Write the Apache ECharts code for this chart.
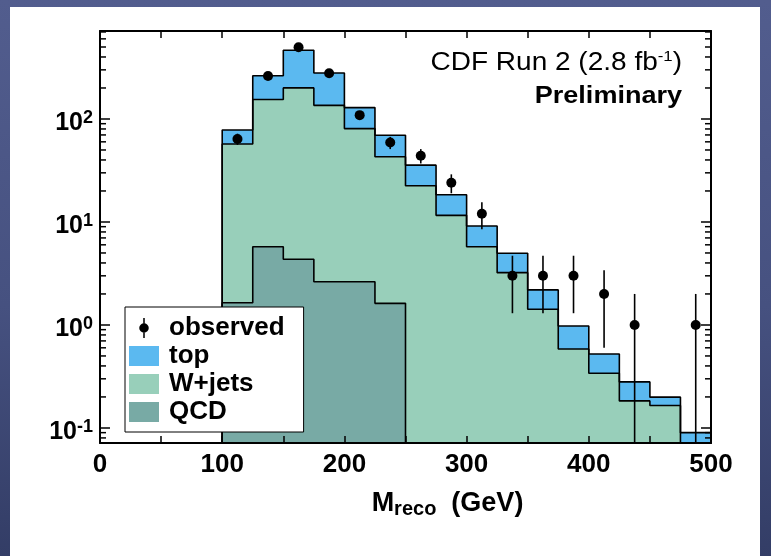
<!DOCTYPE html>
<html>
<head>
<meta charset="utf-8">
<script src="https://cdn.jsdelivr.net/npm/echarts@6.0.0/dist/echarts.min.js"></script>
<style>
html,body{margin:0;padding:0;}
body{width:771px;height:556px;overflow:hidden;position:relative;background:linear-gradient(180deg,#525d8e 0%,#465180 55%,#333d66 100%);}
#panel{position:absolute;left:10px;top:7px;width:750px;height:549px;background:#fff;}
#chart{position:absolute;left:0;top:0;width:771px;height:556px;}
</style>
</head>
<body>
<div id="panel"></div>
<div id="chart"></div>
<script>
// ---- data ----
const binEdges = [100,125,150,175,200,225,250,275,300,325,350,375,400,425,450,475,500];
const qcd      = [1.64,5.75,4.34,2.63,2.63,1.62,0,0,0,0,0,0,0,0,0,0];
const wjets    = [55.6,149,196,133,78,41.4,22.5,11.6,5.75,3.22,1.42,0.585,0.34,0.183,0.165,0.05];
const topQuark = [21,108,264,144,48.3,26.5,13.1,6.8,3.4,1.75,0.77,0.393,0.183,0.097,0.034,0.04];
const observed = [64,261,497,278,109,59,44,24,12,3,3,3,2,1,null,1];
const obsLow   = [56,245,475,261,99,51,37,19,8.5,1.3,1.3,1.3,0.6,0,null,0];
const obsHigh  = [72,277,519,295,119,67,51,29,15.5,4.7,4.7,4.7,3.4,2,null,2];
const xLabelValues = [0,100,200,300,400,500];
const yMajorTicks = [0.1,1,10,100];
const yMinorTicks = [0.08,0.09,0.2,0.3,0.4,0.5,0.6,0.7,0.8,0.9,2,3,4,5,6,7,8,9,20,30,40,50,60,70,80,90,200,300,400,500,600,700];
const seriesNames = ['observed','top','W+jets','QCD'];

// ---- settings ----
const xMin = 0, xMax = 500;
const yMin = 0.0714, yMax = 715;
const FONT = '"Liberation Sans", Arial, Helvetica, sans-serif';
const C_TOP = '#5bb9f0', C_W = '#98cfba', C_QCD = '#78aaa5';

// cumulative stack levels
const lvlQcd = qcd.slice();
const lvlW = qcd.map((v,i)=>v+wjets[i]);
const lvlTot = lvlW.map((v,i)=>v+topQuark[i]);

function stepData(vals){
  let last = vals.length-1;
  while(last>=0 && !(vals[last]>0)) last--;
  const pts = [[binEdges[0], yMin]];
  for(let i=0;i<=last;i++) pts.push([binEdges[i], vals[i]]);
  pts.push([binEdges[last+1], vals[last]]);
  pts.push([binEdges[last+1], yMin]);
  return pts;
}
const centers = binEdges.slice(0,-1).map((e,i)=>(e+binEdges[i+1])/2);
const obsData = [], errData = [];
observed.forEach((v,i)=>{
  if(v==null) return;
  obsData.push([centers[i], v]);
  errData.push([centers[i], Math.max(obsLow[i], yMin), obsHigh[i]]);
});

function fillSeries(name, data, color){
  return {name, type:'line', step:'end', data, symbol:'none', clip:true, silent:true,
    itemStyle:{color}, lineStyle:{width:0, opacity:0},
    areaStyle:{color, opacity:1, origin:'start'}, z:2};
}
function lineSeries(data){
  return {name:'outline', type:'line', step:'end', data, symbol:'none', clip:true, silent:true,
    lineStyle:{color:'#000', width:1.6}, z:3};
}

const axisLineStyle = {color:'#000', width:2};
const tickStyle = {color:'#000', width:1.5};

const option = {
  animation:false,
  backgroundColor:'transparent',
  grid:{left:100, right:60, top:31, bottom:113, containLabel:false},
  xAxis:[
    {type:'value', min:xMin, max:xMax, interval:50, position:'bottom', z:10,
     axisLine:{show:true, onZero:false, lineStyle:axisLineStyle},
     axisTick:{show:true, inside:true, length:7, lineStyle:tickStyle},
     axisLabel:{customValues:xLabelValues, margin:9, fontFamily:FONT, fontWeight:'bold', fontSize:26, color:'#000'},
     splitLine:{show:false},
     name:'{m|M}{s|reco}{g|  (GeV)}', nameLocation:'middle', nameGap:46,
     nameTextStyle:{padding:[0,0,0,84], rich:{
       m:{fontFamily:FONT, fontWeight:'bold', fontSize:27, lineHeight:30, color:'#000'},
       s:{fontFamily:FONT, fontWeight:'bold', fontSize:20, verticalAlign:'bottom', color:'#000'},
       g:{fontFamily:FONT, fontWeight:'bold', fontSize:27, lineHeight:30, color:'#000'}
     }}},
    {type:'value', min:xMin, max:xMax, interval:50, position:'top', z:10,
     axisLine:{show:true, onZero:false, lineStyle:axisLineStyle},
     axisTick:{show:true, inside:true, length:7, lineStyle:tickStyle},
     axisLabel:{show:false}, splitLine:{show:false}}
  ],
  yAxis:[
    {type:'log', logBase:10, min:yMin, max:yMax, position:'left', z:10,
     axisLine:{show:true, onZero:false, lineStyle:axisLineStyle},
     axisTick:{show:true, inside:true, length:10, customValues:yMajorTicks, lineStyle:tickStyle},
     axisLabel:{customValues:yMajorTicks, margin:7, padding:[8,0,0,0],
       formatter:function(v){return '{b|10}{s|'+Math.round(Math.log10(v))+'}';},
       rich:{
         b:{fontFamily:FONT, fontWeight:'bold', fontSize:25, lineHeight:28, color:'#000'},
         s:{fontFamily:FONT, fontWeight:'bold', fontSize:18, verticalAlign:'top', color:'#000'}
       }},
     splitLine:{show:false}},
    {type:'log', logBase:10, min:yMin, max:yMax, position:'right', z:10,
     axisLine:{show:true, onZero:false, lineStyle:axisLineStyle},
     axisTick:{show:true, inside:true, length:10, customValues:yMajorTicks, lineStyle:tickStyle},
     axisLabel:{show:false}, splitLine:{show:false}}
  ],
  legend:{
    data:[
      {name:seriesNames[0], icon:'path://M-0.8,0L0.8,0L0.8,21L-0.8,21Z M5,10.5A5,5,0,1,1,-5,10.5A5,5,0,1,1,5,10.5Z', itemStyle:{color:'#000'}},
      {name:seriesNames[1], icon:'rect', itemStyle:{color:C_TOP, borderWidth:0}},
      {name:seriesNames[2], icon:'rect', itemStyle:{color:C_W, borderWidth:0}},
      {name:seriesNames[3], icon:'rect', itemStyle:{color:C_QCD, borderWidth:0}}
    ],
    orient:'vertical', left:125, top:307, itemWidth:30, itemHeight:20, itemGap:2,
    padding:[8,19,7,4], backgroundColor:'#fff', borderColor:'#000', borderWidth:1,
    textStyle:{fontFamily:FONT, fontWeight:'bold', fontSize:26, color:'#000', padding:[0,0,0,5]},
    selectedMode:false, z:20
  },
  graphic:[
    {type:'text', x:682, y:63, scaleX:1.12, z:30,
     style:{text:'{a|CDF Run 2 (2.8 fb}{s|-1}{a|)}', align:'right', verticalAlign:'middle',
       rich:{
         a:{fontFamily:FONT, fontSize:25, lineHeight:28, fill:'#000'},
         s:{fontFamily:FONT, fontSize:15, verticalAlign:'top', fill:'#000'}
       }}},
    {type:'text', x:682, y:97, scaleX:1.15, z:30,
     style:{text:'Preliminary', align:'right', verticalAlign:'middle',
       fontFamily:FONT, fontWeight:'bold', fontSize:23.5, fill:'#000'}}
  ],
  series:[
    fillSeries(seriesNames[1], stepData(lvlTot), C_TOP),
    fillSeries(seriesNames[2], stepData(lvlW), C_W),
    fillSeries(seriesNames[3], stepData(lvlQcd), C_QCD),
    lineSeries(stepData(lvlTot)),
    lineSeries(stepData(lvlW)),
    lineSeries(stepData(lvlQcd)),
    {name:'minorTicks', type:'custom', data:yMinorTicks.map(v=>[xMin, v]), encode:{x:0, y:1}, z:11, silent:true, clip:false,
     renderItem:function(params, api){
       const v = api.value(1);
       const pl = api.coord([xMin, v]);
       const pr = api.coord([xMax, v]);
       return {type:'group', children:[
         {type:'line', shape:{x1:pl[0], y1:pl[1], x2:pl[0]+6, y2:pl[1]}, style:{stroke:'#000', lineWidth:1.5}},
         {type:'line', shape:{x1:pr[0]-6, y1:pr[1], x2:pr[0], y2:pr[1]}, style:{stroke:'#000', lineWidth:1.5}}
       ]};
     }},
    {name:'errors', type:'custom', data:errData, encode:{x:0, y:[1,2]}, z:5, clip:true, silent:true,
     renderItem:function(params, api){
       const p1 = api.coord([api.value(0), api.value(1)]);
       const p2 = api.coord([api.value(0), api.value(2)]);
       return {type:'line', shape:{x1:p1[0], y1:p1[1], x2:p2[0], y2:p2[1]}, style:{stroke:'#000', lineWidth:1.6}};
     }},
    {name:seriesNames[0], type:'scatter', data:obsData, symbol:'circle', symbolSize:10,
     itemStyle:{color:'#000', opacity:1}, z:6, silent:true}
  ]
};
const chart = echarts.init(document.getElementById('chart'), null, {renderer:'canvas'});
chart.setOption(option);
</script>
</body>
</html>
